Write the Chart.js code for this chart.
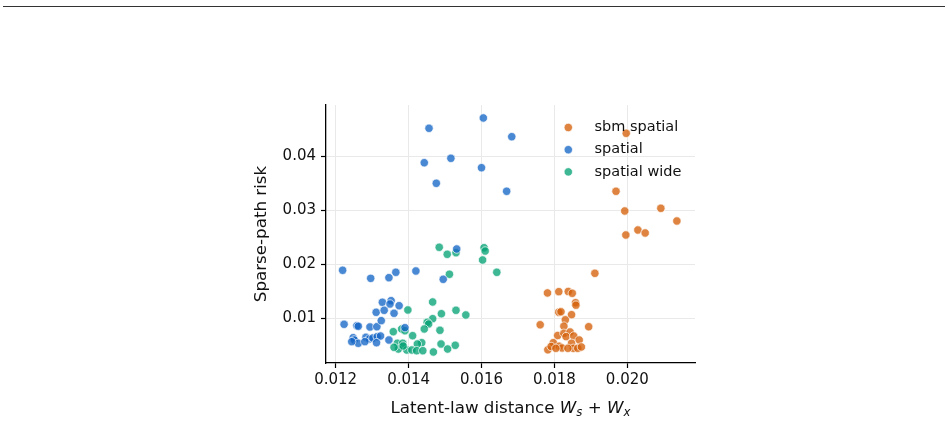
<!DOCTYPE html>
<html>
<head>
<meta charset="utf-8">
<script src="https://cdn.jsdelivr.net/npm/chart.js@4.4.1/dist/chart.umd.min.js"></script>
<style>
  html, body { margin: 0; padding: 0; background: #fff; }
  #wrap { position: relative; width: 948px; height: 423px; }
  #topline { position: absolute; left: 3px; top: 6px; width: 942px; height: 0; border-top: 1px solid #333; }
</style>
</head>
<body>
<div id="wrap">
  <div id="topline"></div>
  <canvas id="risk_chart" width="948" height="423"></canvas>
</div>
<script>
// series
var sbmX = [0.01997,0.01969,0.01993,0.02092,0.02136,0.02029,0.02049,0.01996,0.01911,
  0.01781,0.01812,0.01838,0.01849,0.01858,0.01859,0.01812,0.01818,0.01847,0.0183,
  0.01761,0.01894,0.01826,0.01809,0.01826,0.01843,0.01832,0.01853,0.01868,0.01797,
  0.01813,0.01821,0.01847,0.01852,0.01864,0.01874,0.01782,0.01791,0.01837,0.01804];
var sbmY = [0.04426,0.03352,0.02987,0.03037,0.02802,0.02635,0.0258,0.02543,0.01833,
  0.01469,0.01493,0.01496,0.01463,0.01289,0.01243,0.01113,0.0112,0.01067,0.00972,
  0.0088,0.00844,0.00854,0.00681,0.00722,0.00746,0.0066,0.00672,0.00598,0.00548,
  0.00483,0.0045,0.00537,0.00444,0.00444,0.00469,0.00417,0.00478,0.00444,0.00444];

var spatialX = [0.01456,0.01605,0.01683,0.01443,0.01516,0.016,0.01476,0.01669,
  0.01219,0.01296,0.01346,0.01365,0.0142,0.01495,0.01532,
  0.01328,0.01352,0.01349,0.01374,0.01311,0.01333,0.0136,0.01223,0.01258,0.01262,
  0.01294,0.01313,0.01325,0.0139,0.01248,0.01251,0.01262,0.01283,0.01292,0.01302,
  0.01314,0.01323,0.01312,0.01346,0.0128,0.01244];
var spatialY = [0.04519,0.0471,0.04363,0.03881,0.03963,0.03789,0.035,0.03352,
  0.01889,0.0174,0.01752,0.01852,0.01876,0.01722,0.02283,
  0.01296,0.01326,0.01265,0.01233,0.01111,0.01148,0.01093,0.00889,0.00863,0.00852,
  0.00839,0.00844,0.00956,0.00826,0.00641,0.00598,0.00537,0.00648,0.00617,0.00635,
  0.0066,0.00672,0.00548,0.00598,0.00567,0.00567];

var wideX = [0.01484,0.01506,0.0153,0.01607,0.0161,0.01603,0.01642,0.01512,0.01466,0.01398,
  0.0153,0.0149,0.01557,0.01466,0.01451,0.01455,0.01443,0.01486,0.01381,0.01358,
  0.01411,0.01436,0.01424,0.01489,0.01528,0.01507,0.01468,0.01369,0.01384,0.01372,
  0.01395,0.01409,0.01422,0.01439,0.0136,0.0139,0.01385];
var wideY = [0.02315,0.02185,0.02215,0.02307,0.02246,0.0208,0.01852,0.01815,0.01302,0.01154,
  0.01148,0.01085,0.01061,0.00993,0.00926,0.00894,0.00802,0.00778,0.00802,0.00752,
  0.00678,0.00548,0.00524,0.00524,0.005,0.00431,0.00376,0.00537,0.00537,0.00431,
  0.00413,0.00413,0.004,0.004,0.00463,0.0077,0.00487];

var seriesNames = ['sbm spatial', 'spatial', 'spatial wide'];
var xTicks = [0.012, 0.014, 0.016, 0.018, 0.020];
var yTicks = [0.01, 0.02, 0.03, 0.04];

var colors = ['rgba(213, 98, 10, 0.78)', 'rgba(22, 102, 198, 0.78)', 'rgba(0, 160, 114, 0.76)'];
var FONT = "'DejaVu Sans', sans-serif";

function toPoints(xs, ys) {
  return xs.map(function (x, i) { return {x: x, y: ys[i]}; });
}

var allSeries = [toPoints(sbmX, sbmY), toPoints(spatialX, spatialY), toPoints(wideX, wideY)];

const risk_data = {
  datasets: allSeries.map(function (pts, i) {
    return {
      label: seriesNames[i],
      data: pts,
      backgroundColor: colors[i],
      borderColor: '#ffffff',
      borderWidth: 0.7,
      pointRadius: 4.2,
      pointHoverRadius: 4.2
    };
  })
};

// axis titles and legend drawn by hand (matplotlib layout)
const extras = {
  id: 'extras',
  afterDraw: function (chart) {
    var ctx = chart.ctx;
    var area = chart.chartArea;
    ctx.save();
    ctx.fillStyle = '#111';

    // y title
    ctx.font = '16.7px ' + FONT;
    ctx.textAlign = 'center';
    ctx.textBaseline = 'middle';
    ctx.translate(262, (area.top + area.bottom) / 2);
    ctx.rotate(-Math.PI / 2);
    ctx.fillText('Sparse-path risk', 0, 0);
    ctx.setTransform(1, 0, 0, 1, 0, 0);

    // x title with W_s + W_x
    var parts = [
      {t: 'Latent-law distance ', f: '16.7px ' + FONT, dy: 0},
      {t: 'W', f: 'oblique 16.7px ' + FONT, dy: 0},
      {t: 's', f: 'oblique 11.7px ' + FONT, dy: 3},
      {t: ' + ', f: '16.7px ' + FONT, dy: 0},
      {t: 'W', f: 'oblique 16.7px ' + FONT, dy: 0},
      {t: 'x', f: 'oblique 11.7px ' + FONT, dy: 3}
    ];
    var total = 0;
    parts.forEach(function (p) { ctx.font = p.f; p.w = ctx.measureText(p.t).width; total += p.w; });
    var x0 = (area.left + area.right) / 2 - total / 2;
    ctx.textAlign = 'left';
    ctx.textBaseline = 'alphabetic';
    parts.forEach(function (p) {
      ctx.font = p.f;
      ctx.fillText(p.t, x0, 413 + p.dy);
      x0 += p.w;
    });

    // legend
    ctx.font = '14.5px ' + FONT;
    ctx.textBaseline = 'middle';
    seriesNames.forEach(function (name, i) {
      var y = 127.5 + i * 22.2;
      ctx.beginPath();
      ctx.arc(568.3, y, 4.2, 0, Math.PI * 2);
      ctx.fillStyle = colors[i];
      ctx.fill();
      ctx.lineWidth = 0.7;
      ctx.strokeStyle = '#fff';
      ctx.stroke();
      ctx.fillStyle = '#111';
      ctx.fillText(name, 594.5, y);
    });
    ctx.restore();
  }
};

const risk_config = {
  type: 'scatter',
  data: risk_data,
  options: {
    responsive: false,
    animation: false,
    events: [],
    layout: { padding: { left: 0, right: 253, top: 105, bottom: 0 } },
    plugins: { legend: { display: false }, tooltip: { enabled: false } },
    scales: {
      x: {
        type: 'linear',
        min: 0.011734,
        max: 0.021857,
        afterBuildTicks: function (s) { s.ticks = xTicks.map(function (v) { return {value: v}; }); },
        afterFit: function (s) { s.height = 60; },
        grid: { color: '#e9e9e9', lineWidth: 1, tickColor: '#000', tickLength: 5, tickWidth: 1.2 },
        border: { color: '#000', width: 1.3 },
        ticks: {
          color: '#111',
          font: { family: FONT, size: 15 },
          padding: 3,
          maxRotation: 0,
          callback: function (v) { return v.toFixed(3); }
        }
      },
      y: {
        type: 'linear',
        min: 0.00172,
        max: 0.0495,
        afterBuildTicks: function (s) { s.ticks = yTicks.map(function (v) { return {value: v}; }); },
        afterFit: function (s) { s.width = 326; },
        grid: { color: '#e9e9e9', lineWidth: 1, tickColor: '#000', tickLength: 5, tickWidth: 1.2 },
        border: { color: '#000', width: 1.3 },
        ticks: {
          color: '#111',
          font: { family: FONT, size: 15 },
          padding: 5,
          callback: function (v) { return v.toFixed(2); }
        }
      }
    }
  },
  plugins: [extras]
};

const risk_chart = new Chart(document.getElementById('risk_chart'), risk_config);
</script>
</body>
</html>
